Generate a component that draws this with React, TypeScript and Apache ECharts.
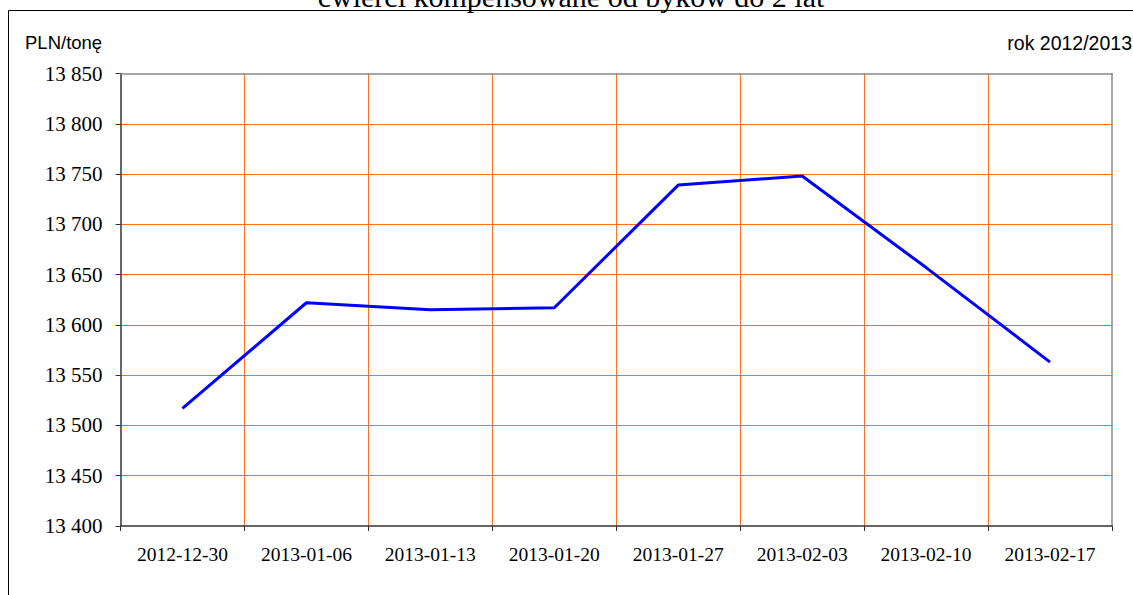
import React, { useEffect, useRef } from "react";
import * as echarts from "echarts";

const categories = [
  "2012-12-30",
  "2013-01-06",
  "2013-01-13",
  "2013-01-20",
  "2013-01-27",
  "2013-02-03",
  "2013-02-10",
  "2013-02-17",
];
const prices = [13517, 13622, 13615, 13617, 13739, 13748, 13657, 13563];
const yMin = 13400;
const yMax = 13850;
const yStep = 50;
const titleText = "ćwierci kompensowane od byków do 2 lat";
const unitText = "PLN/tonę";
const yearText = "rok 2012/2013";

const SERIF = "Liberation Serif";
const SANS = "Liberation Sans";

function fmt(v: number): string {
  const th = Math.floor(v / 1000);
  const rest = String(v % 1000).padStart(3, "0");
  return `{s|${th} ${rest}}`;
}

export default function App() {
  const ref = useRef<HTMLDivElement>(null);
  useEffect(() => {
    if (!ref.current) return;
    const chart = echarts.init(ref.current, undefined, { renderer: "svg" });
    chart.setOption({
      animation: false,
      backgroundColor: "#ffffff",
      textStyle: { fontFamily: SERIF, color: "#000" },
      grid: { left: 120.5, right: 21, top: 73.5, bottom: 69, containLabel: false },
      graphic: [
        {
          type: "line",
          z: 100,
          shape: { x1: 8.5, y1: 10.5, x2: 8.5, y2: 600 },
          style: { stroke: "#000", lineWidth: 1 },
        },
        {
          type: "line",
          z: 100,
          shape: { x1: 8.5, y1: 10.5, x2: 1133, y2: 10.5 },
          style: { stroke: "#000", lineWidth: 1 },
        },
        {
          type: "text",
          x: 571,
          y: -4,
          style: {
            text: titleText,
            fontFamily: SERIF,
            fontSize: 30,
            fill: "#000",
            align: "center",
            verticalAlign: "middle",
          },
        },
        {
          type: "text",
          x: 25,
          y: 42.7,
          style: {
            text: unitText,
            fontFamily: SANS,
            fontSize: 18.5,
            fill: "#000",
            align: "left",
            verticalAlign: "middle",
          },
        },
        {
          type: "text",
          x: 1132,
          y: 42.5,
          style: {
            text: yearText,
            fontFamily: SANS,
            fontSize: 19.5,
            fill: "#000",
            align: "right",
            verticalAlign: "middle",
          },
        },
      ],
      xAxis: [
        {
          type: "category",
          data: categories,
          boundaryGap: true,
          position: "bottom",
          axisLine: { show: true, lineStyle: { color: "#333", width: 1.5 } },
          axisTick: { show: true, length: 5, inside: false, alignWithLabel: false, lineStyle: { color: "#333" } },
          axisLabel: {
            margin: 18,
            color: "#000",
            fontFamily: SERIF,
            fontSize: 19.5,
            interval: 0,
          },
          splitLine: {
            show: true,
            showMinLine: false,
            showMaxLine: false,
            lineStyle: { color: "#ff7020", width: 1 },
          },
        },
        {
          type: "category",
          data: categories,
          position: "top",
          axisLine: { show: true, lineStyle: { color: "#8a8a8a", width: 1.5 } },
          axisTick: { show: false },
          axisLabel: { show: false },
          splitLine: { show: false },
        },
      ],
      yAxis: [
        {
          type: "value",
          min: yMin,
          max: yMax,
          interval: yStep,
          position: "left",
          axisLine: { show: true, lineStyle: { color: "#333", width: 1.5 } },
          axisTick: { show: true, length: 5, lineStyle: { color: "#333" } },
          axisLabel: {
            margin: 18,
            color: "#000",
            fontFamily: SERIF,
            fontSize: 21,
            formatter: (v: number) => fmt(v),
            rich: {
              s: { fontFamily: SERIF, fontSize: 21, color: "#000" },
            },
          },
          splitLine: {
            show: true,
            showMinLine: false,
            showMaxLine: false,
            lineStyle: { color: "#ff7020", width: 1 },
          },
        },
        {
          type: "value",
          min: yMin,
          max: yMax,
          interval: yStep,
          position: "right",
          axisLine: { show: true, lineStyle: { color: "#8a8a8a", width: 1.5 } },
          axisTick: { show: false },
          axisLabel: { show: false },
          splitLine: { show: false },
        },
      ],
      series: [
        {
          type: "line",
          data: prices,
          xAxisIndex: 0,
          yAxisIndex: 0,
          showSymbol: false,
          symbol: "none",
          lineStyle: { color: "#0000ff", width: 3 },
          z: 5,
        },
      ],
    });
    return () => chart.dispose();
  }, []);
  return (
    <div
      ref={ref}
      style={{ position: "fixed", left: 0, top: 0, width: 1133, height: 595, background: "#fff" }}
    />
  );
}
